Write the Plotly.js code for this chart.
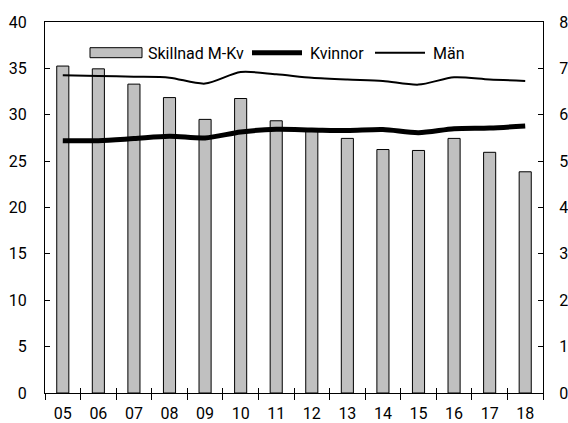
<!DOCTYPE html>
<html>
<head>
<meta charset="utf-8">
<script src="https://cdn.plot.ly/plotly-3.0.1.min.js"></script>
<style>
html,body{margin:0;padding:0;background:#fff;}
#chart{width:568px;height:423px;}
</style>
</head>
<body>
<div id="chart"></div>
<script>
const years = ["05","06","07","08","09","10","11","12","13","14","15","16","17","18"];
const skillnad = [7.05, 6.99, 6.66, 6.37, 5.90, 6.35, 5.87, 5.65, 5.49, 5.25, 5.23, 5.49, 5.19, 4.77];
const kvinnor = [27.2, 27.2, 27.43, 27.68, 27.5, 28.14, 28.43, 28.36, 28.29, 28.4, 28.07, 28.5, 28.57, 28.79];
const man = [34.25, 34.18, 34.1, 34.0, 33.36, 34.6, 34.36, 34.0, 33.8, 33.65, 33.25, 34.04, 33.8, 33.65];
const leftTicks = [0, 5, 10, 15, 20, 25, 30, 35, 40];
const rightTicks = [0, 1, 2, 3, 4, 5, 6, 7, 8];

const FONT = "Roboto, 'Liberation Sans', sans-serif";

const traces = [
  {
    type: "bar", name: "Skillnad M-Kv", x: years, y: skillnad, yaxis: "y",
    width: 0.34,
    marker: {color: "#c0c0c0", line: {color: "#000", width: 1}}
  },
  {
    type: "scatter", mode: "lines", name: "Kvinnor", x: years, y: kvinnor, yaxis: "y2",
    line: {color: "#000", width: 5, shape: "spline", smoothing: 0.8}
  },
  {
    type: "scatter", mode: "lines", name: "Män", x: years, y: man, yaxis: "y2",
    line: {color: "#000", width: 2, shape: "spline", smoothing: 0.8}
  },
  {
    // invisible helper so the inner tick axis gets the same categories
    type: "scatter", mode: "none", x: years, y: man, xaxis: "x2", yaxis: "y2",
    showlegend: false, hoverinfo: "skip"
  }
];

const layout = {
  width: 568, height: 423,
  margin: {l: 45, r: 25, t: 22, b: 30, pad: 0},
  paper_bgcolor: "#fff", plot_bgcolor: "#fff",
  font: {family: FONT, size: 16, color: "#000"},
  showlegend: true,
  legend: {
    orientation: "h", x: 0.07, y: 0.917, xanchor: "left", yanchor: "middle",
    bgcolor: "rgba(0,0,0,0)", font: {family: FONT, size: 16, color: "#000"},
    traceorder: "normal"
  },
  bargap: 0,
  xaxis: {
    type: "category", tickson: "boundaries",
    ticks: "outside", ticklen: 6, tickwidth: 1, tickcolor: "#000",
    showline: true, linecolor: "#000", linewidth: 1, mirror: true,
    showgrid: false, zeroline: false, range: [-0.5, 13.5],
    ticklabelstandoff: 6,
    tickfont: {family: FONT, size: 16}
  },
  xaxis2: {
    type: "category", overlaying: "x", side: "bottom", tickson: "boundaries",
    ticks: "inside", ticklen: 5, tickwidth: 1, tickcolor: "#000",
    showticklabels: false, showline: false, showgrid: false, zeroline: false,
    range: [-0.5, 13.5]
  },
  yaxis: {
    side: "right", range: [0, 8], tickvals: rightTicks,
    ticks: "inside", ticklen: 5, tickcolor: "#000",
    showline: true, linecolor: "#000", linewidth: 1,
    showgrid: false, zeroline: false, ticklabelstandoff: 12,
    tickfont: {family: FONT, size: 16}
  },
  yaxis2: {
    side: "left", overlaying: "y", range: [0, 40], tickvals: leftTicks,
    ticks: "inside", ticklen: 5, tickcolor: "#000",
    showline: true, linecolor: "#000", linewidth: 1,
    showgrid: false, zeroline: false, ticklabelstandoff: 14,
    tickfont: {family: FONT, size: 16}
  }
};

Plotly.newPlot("chart", traces, layout, {staticPlot: true, displayModeBar: false}).then(function (gd) {
  // long legend keys like the reference: place each item and widen its symbol
  gd.querySelectorAll(".legend [clip-path]").forEach(function (el) { el.removeAttribute("clip-path"); });
  const itemStart = [85, 247, 370];
  gd.querySelectorAll(".legend .traces").forEach(function (g, i) {
    const t = g.getAttribute("transform") || "";
    const m = /translate\(\s*([-\d.e]+)[\s,]+([-\d.e]+)\s*\)/.exec(t);
    const y = m ? parseFloat(m[2]) : 0;
    const pc = g.parentNode.getCTM();
    if (i < itemStart.length) g.setAttribute("transform", "translate(" + (itemStart[i] - pc.e) + "," + y + ")");
    const inv = g.getCTM().inverse();
    g.querySelectorAll("path.js-line").forEach(function (p) {
      const r = inv.multiply(p.getCTM());
      p.setAttribute("d", "M" + (5 - r.e) + "," + (-r.f) + "h50");
    });
    g.querySelectorAll(".legendpoints path").forEach(function (p) {
      const r = inv.multiply(p.getCTM());
      p.setAttribute("d", "M" + (5 - r.e) + "," + (5 - r.f) + "H" + (57 - r.e) + "V" + (-5 - r.f) + "H" + (5 - r.e) + "Z");
    });
    const tx = g.querySelector("text.legendtext");
    if (tx) {
      tx.setAttribute("x", 63);
      tx.querySelectorAll("tspan[x]").forEach(function (s) { s.setAttribute("x", 63); });
    }
  });
});
</script>
</body>
</html>
